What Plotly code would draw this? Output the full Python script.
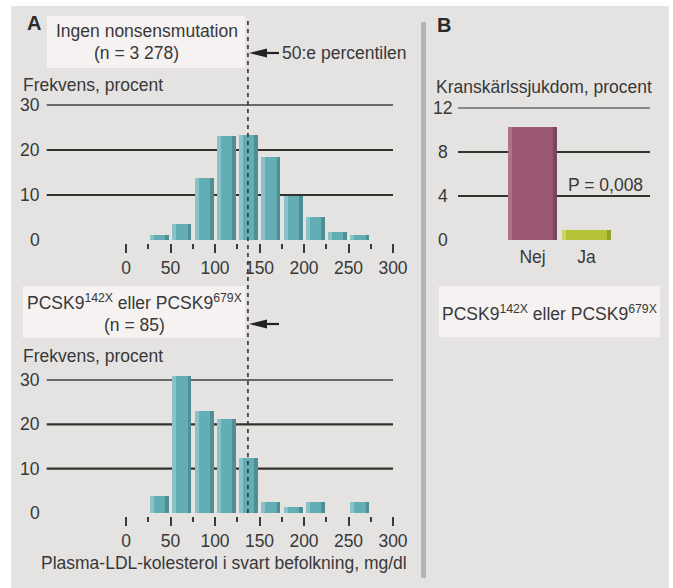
import plotly.graph_objects as go

# reference canvas size (all positions below are reference pixels)
W, H = 673, 588
# the renderer squeezes the page horizontally by ~0.978, so the figure is laid out wider
FIG_W = 688

# ---------------- data ----------------
bin_centers = [37.5, 62.5, 87.5, 112.5, 137.5, 162.5, 187.5, 212.5, 237.5, 262.5]
freq_no_mutation = [1.1, 3.6, 13.8, 23.2, 23.4, 18.5, 9.8, 5.1, 1.8, 1.1]
freq_pcsk9 = [3.8, 30.8, 23.1, 21.1, 12.4, 2.5, 1.3, 2.5, 0.0, 2.5]
chd_groups = ["Nej", "Ja"]
chd_percent = [10.3, 0.9]
ldl_ticks = [0, 50, 100, 150, 200, 250, 300]
freq_ticks = [0, 10, 20, 30]
chd_ticks = [0, 4, 8, 12]
median_ldl = 137

FONT = "Liberation Sans, Arial, sans-serif"
FS = 17.5
TXT = "#383838"
BG = "#e4e3e1"
BOX = "#f5f2f1"


def X(px):
    return px / W


def Y(py):
    return 1 - py / H


fig = go.Figure()

# ---------------- bars with light/dark edge strips ----------------
def add_bars(xa, ya, x, y, width, strip, main, light, dark):
    half = width / 2
    fig.add_trace(go.Bar(x=x, y=y, width=width, offset=-half, marker_color=main,
                         marker_line_width=0, xaxis=xa, yaxis=ya, hoverinfo="skip"))
    fig.add_trace(go.Bar(x=x, y=y, width=strip, offset=-half, marker_color=light,
                         marker_line_width=0, xaxis=xa, yaxis=ya, hoverinfo="skip"))
    fig.add_trace(go.Bar(x=x, y=y, width=strip, offset=half - strip, marker_color=dark,
                         marker_line_width=0, xaxis=xa, yaxis=ya, hoverinfo="skip"))


teal = ("#62aeb4", "#8ac3c7", "#4f8e93")
add_bars("x", "y", bin_centers, freq_no_mutation, 21.4, 4.4, *teal)
add_bars("x2", "y2", bin_centers, freq_pcsk9, 21.4, 4.4, *teal)
add_bars("x3", "y3", chd_groups[:1], chd_percent[:1], 0.907, 0.075, "#9a5773", "#ad7189", "#7c4560")
add_bars("x3", "y3", chd_groups[1:], chd_percent[1:], 0.907, 0.075, "#b4c337", "#cad75f", "#94a229")

# ---------------- axes ----------------
ppu = (393 - 126) / 300.0
x_left = (46.7 - 126) / ppu

xax = dict(range=[x_left, 300], showgrid=False, zeroline=False, showline=False,
           tickmode="array", tickvals=ldl_ticks, ticks="outside", ticklen=9, tickwidth=1.5,
           tickcolor="#3a3a3a", tickfont=dict(family=FONT, size=FS, color=TXT),
           minor=dict(ticks="outside", ticklen=5, tickwidth=1.5, tickcolor="#3a3a3a",
                      tickmode="array", tickvals=[25, 75, 125, 175, 225, 275]),
           fixedrange=True)

top_ppu = 4.5
bot_ppu = 133 / 30.0

fig.update_layout(
    width=FIG_W, height=H, autosize=False,
    margin=dict(l=0, r=0, t=0, b=0),
    paper_bgcolor="white", plot_bgcolor="rgba(0,0,0,0)",
    barmode="overlay", bargap=0, showlegend=False,
    font=dict(family=FONT, size=FS, color=TXT),
    xaxis=dict(domain=[X(46.7), X(393)], anchor="y", **xax),
    yaxis=dict(domain=[Y(243), Y(96)], anchor="x", range=[-3 / top_ppu, (240 - 96) / top_ppu],
               showgrid=False, zeroline=False, showticklabels=False, fixedrange=True),
    xaxis2=dict(domain=[X(46.7), X(393)], anchor="y2", **xax),
    yaxis2=dict(domain=[Y(516), Y(371)], anchor="x2", range=[-3 / bot_ppu, (513 - 371) / bot_ppu],
                showgrid=False, zeroline=False, showticklabels=False, fixedrange=True),
    xaxis3=dict(domain=[X(458), X(650)], anchor="y3", type="category",
                range=[(458 - 532.5) / 54, (650 - 532.5) / 54],
                showgrid=False, zeroline=False, showline=False, ticks="", ticklabelstandoff=4,
                tickfont=dict(family=FONT, size=FS, color=TXT), fixedrange=True),
    yaxis3=dict(domain=[Y(240), Y(100)], anchor="x3", range=[0, (240 - 100) / 11.0],
                showgrid=False, zeroline=False, showticklabels=False, fixedrange=True),
)

shapes = []
# panel background
shapes.append(dict(type="rect", xref="paper", yref="paper", x0=X(11), x1=X(669), y0=Y(588), y1=Y(6),
                   fillcolor=BG, line_width=0, layer="below"))
# divider
shapes.append(dict(type="rect", xref="paper", yref="paper", x0=X(421), x1=X(426), y0=Y(578), y1=Y(22),
                   fillcolor="#b5b4b2", line_width=0, layer="below"))

# gridlines
for ya, xa in (("y", "x"), ("y2", "x2")):
    for v in freq_ticks[1:]:
        top = v == freq_ticks[-1]
        shapes.append(dict(type="line", xref=xa + " domain", yref=ya, x0=0, x1=1, y0=v, y1=v,
                           line=dict(color="#3f3f3c" if top else "#33322f", width=1.6 if top else 2.2),
                           layer="below"))
for v in chd_ticks[1:]:
    top = v == chd_ticks[-1]
    shapes.append(dict(type="line", xref="x3 domain", yref="y3", x0=0, x1=1, y0=v, y1=v,
                       line=dict(color="#6a6a68" if top else "#33322f", width=1.3 if top else 2.2),
                       layer="below"))

# text boxes
for (x0, y0, x1, y1) in ((47, 16, 245, 68), (23, 286, 245, 338), (439, 286, 660, 337)):
    shapes.append(dict(type="rect", xref="paper", yref="paper", x0=X(x0), x1=X(x1), y0=Y(y1), y1=Y(y0),
                       fillcolor=BOX, line_width=0, layer="above"))

# median dashed line
shapes.append(dict(type="line", xref="x", yref="paper", x0=median_ldl, x1=median_ldl, y0=Y(513), y1=Y(20),
                   line=dict(color="#2e2e2e", width=1.6, dash="4px,4px"), layer="above"))

# arrows pointing at the median line (shaft + filled head)
for py in (53, 324):
    shapes.append(dict(type="line", xref="paper", yref="paper", x0=X(264), x1=X(279), y0=Y(py), y1=Y(py),
                       line=dict(color="#222222", width=2.2), layer="above"))
    shapes.append(dict(type="path", xref="paper", yref="paper",
                       path="M %f %f L %f %f L %f %f Z" % (X(249), Y(py), X(267), Y(py - 4.5), X(267), Y(py + 4.5)),
                       fillcolor="#222222", line_width=0, layer="above"))

fig.update_layout(shapes=shapes)

ann = []


def text(px, py, s, anchor="center", size=FS, bold=False):
    ann.append(dict(xref="paper", yref="paper", x=X(px), y=Y(py), text=("<b>%s</b>" % s) if bold else s,
                    showarrow=False, xanchor=anchor, yanchor="middle",
                    font=dict(family=FONT, size=size, color="#2a2a2a" if bold else TXT)))


text(33.5, 23, "A", size=20, bold=True)
text(443.5, 25, "B", size=20, bold=True)
text(147, 31, "Ingen nonsensmutation")
text(136, 53, "(n = 3 278)")
text(280, 53, "50:e percentilen", anchor="left")
text(134.5, 302, "PCSK9<sup>142X</sup> eller PCSK9<sup>679X</sup>")
text(134, 325, "(n = 85)")
text(549.5, 313, "PCSK9<sup>142X</sup> eller PCSK9<sup>679X</sup>")
text(21, 85, "Frekvens, procent", anchor="left")
text(21, 356, "Frekvens, procent", anchor="left")
text(434, 87, "Kranskärlssjukdom, procent", anchor="left")
text(605, 185, "P = 0,008")
text(224, 563, "Plasma-LDL-kolesterol i svart befolkning, mg/dl")

# y tick labels
for v in freq_ticks:
    ann.append(dict(xref="paper", yref="y", x=X(41.5), y=v, text=str(v), showarrow=False,
                    xanchor="right", yanchor="middle", font=dict(family=FONT, size=FS, color=TXT)))
    ann.append(dict(xref="paper", yref="y2", x=X(41.5), y=v, text=str(v), showarrow=False,
                    xanchor="right", yanchor="middle", font=dict(family=FONT, size=FS, color=TXT)))
for v in chd_ticks:
    ann.append(dict(xref="paper", yref="y3", x=X(442.5), y=v, text=str(v), showarrow=False,
                    xanchor="center", yanchor="middle", font=dict(family=FONT, size=FS, color=TXT)))

fig.update_layout(annotations=ann)

fig.write_html("out.html", config={"displayModeBar": False},
               post_script="document.body.style.margin='0';document.body.style.overflow='hidden';")
